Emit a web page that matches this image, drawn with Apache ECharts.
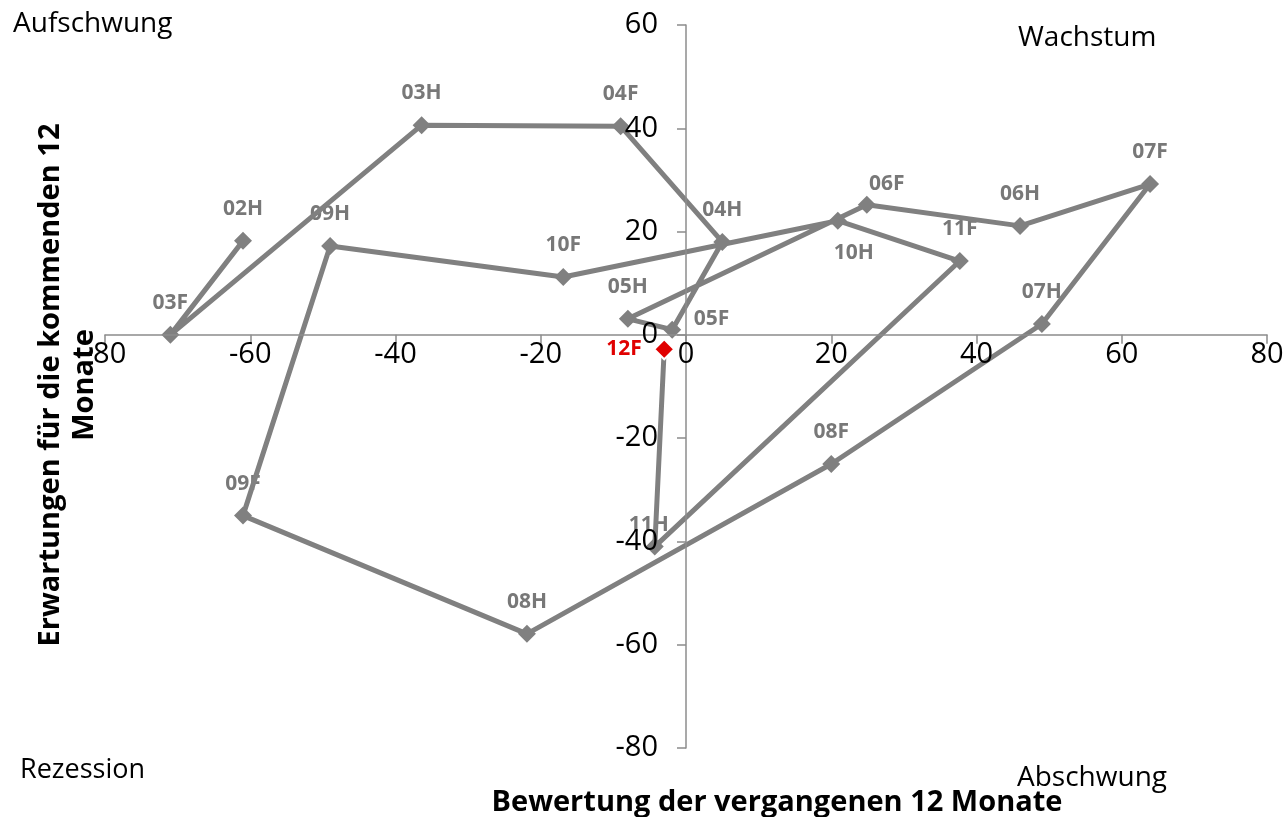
<!DOCTYPE html>
<html>
<head>
<meta charset="utf-8">
<script src="https://cdn.jsdelivr.net/npm/echarts@6/dist/echarts.min.js"></script>
<style>
html,body{margin:0;padding:0;background:#fff;}
#chart{width:1288px;height:817px;}
</style>
</head>
<body>
<div id="chart"></div>
<script>
// Half-year survey points: past 12 months (x) vs. next 12 months (y)
const periods = ['02H','03F','03H','04F','04H','05F','05H','06F','06H','07F','07H','08F','08H','09F','09H','10F','10H','11F','11H','12F'];
const pastValues = [-61, -71, -36.4, -9, 5, -1.9, -8, 24.9, 46, 63.9, 49, 20, -21.9, -61, -49, -16.9, 20.9, 37.7, -4.3, -3];
const futureValues = [18.2, 0, 40.6, 40.4, 18, 1, 3.1, 25.2, 21.1, 29.2, 2.1, -25, -57.9, -35, 17.2, 11.2, 22.1, 14.3, -41, -2.8];
const latestPeriod = '12F';
const xTicks = { min: -80, max: 80, step: 20 };
const yTicks = { min: -80, max: 60, step: 20 };

const FONT = '"Open Sans", sans-serif';
const GREY = '#808080';
const AXIS_GREY = '#8c8c8c';

// label placement per point (default above the marker)
const labelStyle = {
  '05F': { position: 'right', offset: [0, -11] },
  '06F': { position: 'top', offset: [20, 11] },
  '10H': { position: 'bottom', offset: [16, 0] },
  '11H': { position: 'top', offset: [-6, 10] },
  '12F': { position: 'left', distance: 14 }
};

const pathData = periods.map((p, i) => [pastValues[i], futureValues[i], p]);
const latestIdx = periods.indexOf(latestPeriod);

const axisCommon = (fontMargin) => ({
  type: 'value',
  axisLine: { onZero: false, lineStyle: { color: AXIS_GREY, width: 1.5 } },
  axisTick: { show: true, inside: false, length: 9, lineStyle: { color: AXIS_GREY, width: 1.5 } },
  axisLabel: { color: '#000', fontSize: 29, fontFamily: FONT, margin: fontMargin },
  splitLine: { show: false },
  z: 5
});

const chart = echarts.init(document.getElementById('chart'), null, { renderer: 'canvas' });
const grid = { left: 105, right: 21, top: 25, bottom: 69 };

chart.setOption({
  animation: false,
  backgroundColor: '#fff',
  grid: grid,
  xAxis: Object.assign(axisCommon(5), {
    min: xTicks.min, max: xTicks.max, interval: xTicks.step, position: 'bottom'
  }),
  yAxis: Object.assign(axisCommon(28), {
    min: yTicks.min, max: yTicks.max, interval: yTicks.step, position: 'left'
  }),
  series: [
    {
      // point labels sit beneath the connecting line
      type: 'scatter',
      data: pathData.map((d, i) => {
        const isLatest = i === latestIdx;
        const ls = labelStyle[d[2]] || {};
        return {
          value: d,
          label: {
            position: ls.position || 'top',
            offset: ls.offset || [0, 0],
            distance: ls.distance !== undefined ? ls.distance : 13,
            color: isLatest ? '#e00000' : '#787878'
          }
        };
      }),
      symbol: 'diamond',
      symbolSize: 17,
      itemStyle: { color: 'rgba(255,255,255,0)' },
      label: {
        show: true,
        opacity: 1,
        formatter: p => p.value[2],
        fontSize: 21, fontWeight: 'bold', fontFamily: FONT
      },
      silent: true,
      z: 1
    },
    {
      type: 'line',
      data: pathData.map((d, i) => {
        const isLatest = i === latestIdx;
        return {
          value: d,
          symbolSize: isLatest ? 20 : 18,
          itemStyle: isLatest ? { color: '#e00000', borderColor: '#fff', borderWidth: 2 } : { color: GREY }
        };
      }),
      symbol: 'diamond',
      lineStyle: { color: GREY, width: 5 },
      itemStyle: { color: GREY },
      z: 3
    }
  ],
  graphic: [
    { type: 'text', x: 13, y: 24, style: { text: 'Aufschwung', fontSize: 28, fontFamily: FONT, fill: '#000', verticalAlign: 'middle' } },
    { type: 'text', x: 1018, y: 38, style: { text: 'Wachstum', fontSize: 28, fontFamily: FONT, fill: '#000', verticalAlign: 'middle' } },
    { type: 'text', x: 20, y: 770, style: { text: 'Rezession', fontSize: 27, fontFamily: FONT, fill: '#000', verticalAlign: 'middle' } },
    { type: 'text', x: 1017, y: 778, style: { text: 'Abschwung', fontSize: 28, fontFamily: FONT, fill: '#000', verticalAlign: 'middle' } },
    { type: 'text', x: 777, y: 803, style: { text: 'Bewertung der vergangenen 12 Monate', fontSize: 29, fontWeight: 'bold', fontFamily: FONT, fill: '#000', align: 'center', verticalAlign: 'middle' } },
    { type: 'text', x: 68, y: 385, rotation: Math.PI / 2,
      style: { text: 'Erwartungen für die kommenden 12\nMonate', fontSize: 29, fontWeight: 'bold', fontFamily: FONT, fill: '#000', align: 'center', verticalAlign: 'middle', lineHeight: 34 } }
  ]
});

// move both axes so they cross at the origin, labels included
const origin = chart.convertToPixel({ gridIndex: 0 }, [0, 0]);
chart.setOption({
  xAxis: { offset: -((817 - grid.bottom) - origin[1]) },
  yAxis: { offset: -(origin[0] - grid.left) }
});
</script>
</body>
</html>
